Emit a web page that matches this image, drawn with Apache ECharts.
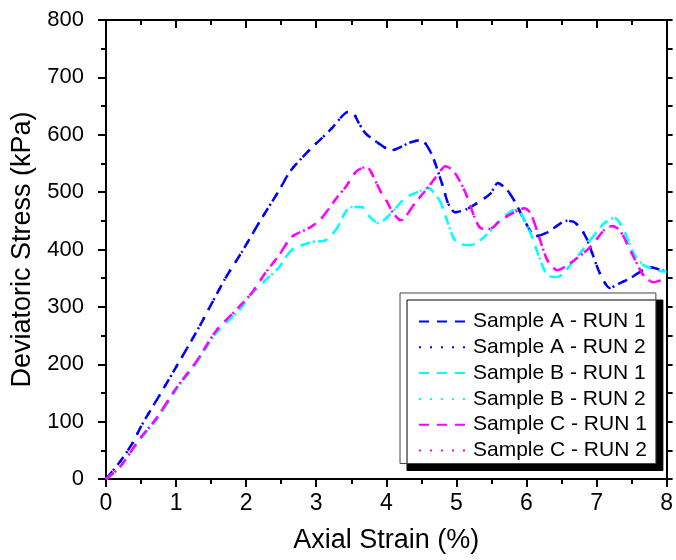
<!DOCTYPE html>
<html>
<head>
<meta charset="utf-8">
<script src="https://cdn.jsdelivr.net/npm/echarts@6/dist/echarts.min.js"></script>
<style>html,body{margin:0;padding:0;background:#fff}#c{width:676px;height:560px}</style>
</head>
<body>
<div id="c"></div>
<script>
// ---- data ----
const xTicks = [0, 1, 2, 3, 4, 5, 6, 7, 8];
const yTicks = [0, 100, 200, 300, 400, 500, 600, 700, 800];

const strainA = [0, 0.2, 0.38, 0.51, 0.74, 1.0, 1.33, 1.69, 1.94, 2.2, 2.47, 2.61, 2.7, 2.94, 3.08, 3.22, 3.46, 3.53, 3.6, 3.7, 3.89, 4.07, 4.35, 4.5, 4.64, 4.71, 4.81, 4.88, 4.98, 5.12, 5.3, 5.49, 5.59, 5.73, 5.85, 5.97, 6.13, 6.3, 6.58, 6.68, 6.79, 6.87, 6.94, 7.05, 7.19, 7.33, 7.48, 7.62, 7.76, 8.0];
const stressA_run1 = [0, 30, 63, 94, 141, 195, 265, 347, 396, 450, 503, 533, 547, 578, 594, 611, 640, 638, 622, 603, 585, 573, 587, 591, 568, 546, 509, 481, 465, 469, 481, 498, 516, 503, 480, 451, 423, 430, 450, 448, 434, 416, 393, 358, 333, 341, 350, 361, 369, 361];
const stressA_run2 = [0, 30, 63, 94, 141, 195, 265, 347, 396, 450, 503, 533, 547, 578, 594, 611, 640, 638, 622, 603, 585, 573, 587, 591, 568, 546, 509, 481, 465, 469, 481, 498, 516, 503, 480, 451, 423, 430, 450, 448, 434, 416, 393, 358, 333, 341, 350, 361, 369, 361];

const strainB = [0, 0.2, 0.48, 0.72, 1.0, 1.29, 1.57, 1.9, 2.09, 2.28, 2.47, 2.65, 2.94, 3.13, 3.28, 3.49, 3.65, 3.74, 3.89, 4.07, 4.27, 4.5, 4.6, 4.69, 4.78, 4.88, 4.98, 5.12, 5.21, 5.4, 5.63, 5.83, 5.91, 6.06, 6.2, 6.3, 6.44, 6.68, 6.91, 7.11, 7.26, 7.39, 7.53, 7.67, 7.86, 8.0];
const stressB_run1 = [0, 21, 68, 103, 155, 202, 254, 294, 324, 347, 369, 399, 413, 416, 434, 474, 474, 460, 446, 463, 490, 503, 507, 498, 481, 446, 416, 408, 408, 422, 451, 469, 465, 428, 381, 355, 352, 381, 416, 446, 455, 434, 393, 373, 364, 361];
const stressB_run2 = [0, 21, 68, 103, 155, 202, 254, 294, 324, 347, 369, 399, 413, 416, 434, 474, 474, 460, 446, 463, 490, 503, 507, 498, 481, 446, 416, 408, 408, 422, 451, 469, 465, 428, 381, 355, 352, 381, 416, 446, 455, 434, 393, 373, 364, 361];

const strainC = [0, 0.2, 0.48, 0.72, 1.0, 1.29, 1.57, 1.9, 2.09, 2.28, 2.47, 2.65, 2.92, 3.08, 3.28, 3.42, 3.58, 3.72, 3.82, 3.91, 3.99, 4.1, 4.21, 4.41, 4.6, 4.78, 4.84, 4.95, 5.06, 5.16, 5.26, 5.35, 5.48, 5.63, 5.83, 5.97, 6.06, 6.18, 6.3, 6.44, 6.68, 6.91, 7.11, 7.22, 7.33, 7.48, 7.67, 7.81, 8.0];
const stressC_run1 = [0, 21, 70, 106, 158, 205, 258, 300, 326, 360, 390, 422, 439, 455, 488, 509, 537, 544, 526, 503, 488, 463, 451, 481, 509, 538, 545, 538, 517, 490, 456, 437, 436, 451, 465, 472, 463, 422, 381, 364, 381, 404, 434, 441, 434, 399, 355, 343, 350];
const stressC_run2 = [0, 21, 70, 106, 158, 205, 258, 300, 326, 360, 390, 422, 439, 455, 488, 509, 537, 544, 526, 503, 488, 463, 451, 481, 509, 538, 545, 538, 517, 490, 456, 437, 436, 451, 465, 472, 463, 422, 381, 364, 381, 404, 434, 441, 434, 399, 355, 343, 350];

const seriesNames = ['Sample A - RUN 1', 'Sample A - RUN 2', 'Sample B - RUN 1', 'Sample B - RUN 2', 'Sample C - RUN 1', 'Sample C - RUN 2'];
const xTitle = 'Axial Strain (%)';
const yTitle = 'Deviatoric Stress (kPa)';

// ---- build ----
const zip = (xs, ys) => xs.map((x, i) => [x, ys[i]]);
const FONT = 'Liberation Sans, Arial, sans-serif';
const DASH = [10, 8];
const DOT = [2, 9];

function mk(name, data, color, dash) {
  return {
    name, type: 'line', data, symbol: 'none', smooth: 0.25,
    xAxisIndex: 0, yAxisIndex: 0,
    lineStyle: { color, width: 2.5, type: dash, cap: 'butt' },
    itemStyle: { color },
    emphasis: { disabled: true }
  };
}

const series = [
  mk(seriesNames[0], zip(strainA, stressA_run1), '#0000ff', DASH),
  mk(seriesNames[1], zip(strainA, stressA_run2), '#0000ff', DOT),
  mk(seriesNames[2], zip(strainB, stressB_run1), '#00ffff', DASH),
  mk(seriesNames[3], zip(strainB, stressB_run2), '#00ffff', DOT),
  mk(seriesNames[4], zip(strainC, stressC_run1), '#ff00ff', DASH),
  mk(seriesNames[5], zip(strainC, stressC_run2), '#ff00ff', DOT)
];

const axisLine = { show: true, onZero: false, lineStyle: { color: '#000', width: 2 } };
const xMin = xTicks[0], xMax = xTicks[xTicks.length - 1];
const yMin = yTicks[0], yMax = yTicks[yTicks.length - 1];

const option = {
  animation: false,
  backgroundColor: '#fff',
  grid: { left: 106, right: 6, top: 20, bottom: 81, containLabel: false },
  legend: {
    orient: 'vertical', left: 400, top: 293,
    data: seriesNames,
    itemWidth: 49, itemHeight: 14, itemGap: 4.8,
    padding: [18, 9, 2.5, 18],
    itemStyle: { opacity: 0, borderWidth: 0 },
    backgroundColor: '#fff', borderColor: '#444', borderWidth: 1,
    shadowColor: '#000', shadowBlur: 0, shadowOffsetX: 7, shadowOffsetY: 7,
    textStyle: { fontFamily: FONT, fontSize: 21, color: '#000', lineHeight: 21 },
    selectedMode: false
  },
  xAxis: [{
    type: 'value', position: 'bottom', min: xMin, max: xMax, interval: 1,
    name: xTitle, nameLocation: 'middle', nameGap: 48,
    nameTextStyle: { fontFamily: FONT, fontSize: 27, color: '#000' },
    axisLine,
    axisTick: { show: true, inside: false, length: 8, lineStyle: { color: '#000', width: 2 } },
    minorTick: { show: true, splitNumber: 2, length: 5, lineStyle: { color: '#000', width: 2 } },
    axisLabel: { fontFamily: FONT, fontSize: 23, color: '#000', margin: 13 },
    splitLine: { show: false }
  }, {
    type: 'value', position: 'top', min: xMin, max: xMax, interval: 1,
    axisLine,
    axisTick: { show: true, inside: true, length: 8, lineStyle: { color: '#000', width: 2 } },
    minorTick: { show: true, splitNumber: 2, length: 5, lineStyle: { color: '#000', width: 2 } },
    axisLabel: { show: false }, splitLine: { show: false }
  }],
  yAxis: [{
    type: 'value', position: 'left', min: yMin, max: yMax, interval: 100,
    name: yTitle, nameLocation: 'middle', nameGap: 66,
    nameTextStyle: { fontFamily: FONT, fontSize: 27, color: '#000' },
    axisLine,
    axisTick: { show: true, inside: false, length: 8, lineStyle: { color: '#000', width: 2 } },
    minorTick: { show: true, splitNumber: 2, length: 5, lineStyle: { color: '#000', width: 2 } },
    axisLabel: { fontFamily: FONT, fontSize: 22, color: '#000', margin: 22 },
    splitLine: { show: false }
  }, {
    type: 'value', position: 'right', min: yMin, max: yMax, interval: 100,
    axisLine,
    axisTick: { show: true, inside: false, length: 6, lineStyle: { color: '#000', width: 2 } },
    minorTick: { show: true, splitNumber: 2, length: 6, lineStyle: { color: '#000', width: 2 } },
    axisLabel: { show: false }, splitLine: { show: false }
  }],
  series
};

const chart = echarts.init(document.getElementById('c'), null, { renderer: 'canvas' });
chart.setOption(option);
</script>
</body>
</html>
